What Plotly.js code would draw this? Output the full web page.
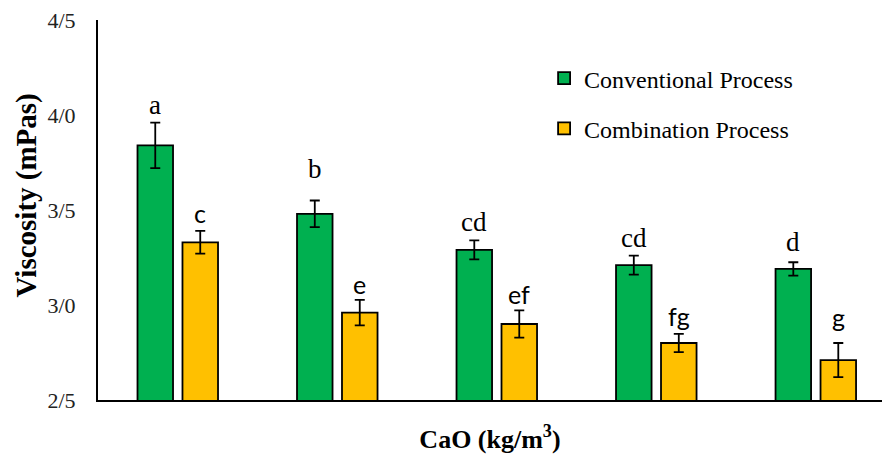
<!DOCTYPE html>
<html>
<head>
<meta charset="utf-8">
<script src="https://cdn.plot.ly/plotly-3.0.1.min.js"></script>
<style>html,body{margin:0;padding:0;background:#fff;}#chart{width:882px;height:454px;}</style>
</head>
<body>
<div id="chart"></div>
<script>
// Data
const categories = [0, 1, 2, 3, 4];
const seriesNames = ["Conventional Process", "Combination Process"];
const conventional = [3.84, 3.48, 3.29, 3.21, 3.19];
const conventionalErr = [0.12, 0.07, 0.05, 0.05, 0.035];
const combination = [3.33, 2.96, 2.90, 2.80, 2.71];
const combinationErr = [0.06, 0.067, 0.072, 0.048, 0.09];
const conventionalLetters = ["a", "b", "cd", "cd", "d"];
const combinationLetters = ["c", "e", "ef", "fg", "g"];
const yTickVals = [2.5, 3.0, 3.5, 4.0, 4.5];
const yTickText = ["2/5", "3/0", "3/5", "4/0", "4/5"];
const xTitle = "CaO (kg/m<sup>3</sup>)";
const yTitle = "Viscosity (mPas)";

// Style / layout settings
const bargap = 0.436, bargroupgap = 0.21;
const slot = (1 - bargap) / 2;
const serif = "Liberation Serif";
const sans = "Lato";
const convLabelExtra = [0, 14, 0, 0, 2];   // extra pixel lift of letter labels
const combLabelExtra = [0, -2, -2, 0, 8];

const traces = [
  {
    type: "bar", name: seriesNames[0], x: categories, y: conventional,
    legendgroup: "g1",
    marker: {color: "#00B050", line: {color: "#000", width: 1.8}},
    error_y: {type: "data", array: conventionalErr, visible: true, color: "#000", thickness: 1.8, width: 5},
    hoverinfo: "y"
  },
  {
    type: "bar", name: seriesNames[1], x: categories, y: combination,
    legendgroup: "g2",
    marker: {color: "#FFC000", line: {color: "#000", width: 1.8}},
    error_y: {type: "data", array: combinationErr, visible: true, color: "#000", thickness: 1.8, width: 5},
    hoverinfo: "y"
  }
];

const annotations = [];
categories.forEach((c, i) => {
  annotations.push({
    x: c - slot / 2, y: conventional[i] + conventionalErr[i], xref: "x", yref: "y",
    text: conventionalLetters[i], showarrow: false, yanchor: "middle", yshift: 18 + convLabelExtra[i],
    font: {family: serif, size: 27, color: "#000"}
  });
  annotations.push({
    x: c + slot / 2, y: combination[i] + combinationErr[i], xref: "x", yref: "y",
    text: combinationLetters[i], showarrow: false, yanchor: "middle", yshift: 18 + combLabelExtra[i],
    font: {family: sans, size: 25, color: "#000"}
  });
});
// y-axis title (placed as rotated text to match the reference's offset)
annotations.push({
  xref: "paper", yref: "paper", x: -0.0906, y: 0.538, xanchor: "center", yanchor: "middle",
  textangle: -90, showarrow: false, text: "<b>" + yTitle + "</b>",
  font: {family: serif, size: 29, color: "#000"}
});

const layout = {
  width: 882, height: 454,
  margin: {l: 98, r: 0, t: 20, b: 54, pad: 0},
  paper_bgcolor: "#fff", plot_bgcolor: "#fff",
  barmode: "group", bargap: bargap, bargroupgap: bargroupgap,
  font: {family: serif, color: "#000"},
  xaxis: {
    range: [-0.5, 4.415], showticklabels: false, ticks: "",
    showgrid: false, zeroline: false,
    showline: true, linecolor: "#000", linewidth: 2,
    title: {text: "<b>" + xTitle + "</b>", font: {family: serif, size: 26, color: "#000"}, standoff: 38}
  },
  yaxis: {
    range: [2.5, 4.5], tickvals: yTickVals, ticktext: yTickText,
    ticks: "", ticklabelstandoff: 16,
    tickfont: {family: serif, size: 22, color: "#222"},
    showgrid: false, zeroline: false,
    showline: true, linecolor: "#000", linewidth: 2
  },
  showlegend: true,
  legend: {
    x: 0.569, y: 0.905, xanchor: "left", yanchor: "top",
    font: {family: serif, size: 24, color: "#000"},
    bgcolor: "rgba(0,0,0,0)", traceorder: "grouped", tracegroupgap: 16,
    itemwidth: 30
  },
  annotations: annotations
};

Plotly.newPlot("chart", traces, layout, {displayModeBar: false, staticPlot: true});
</script>
</body>
</html>
